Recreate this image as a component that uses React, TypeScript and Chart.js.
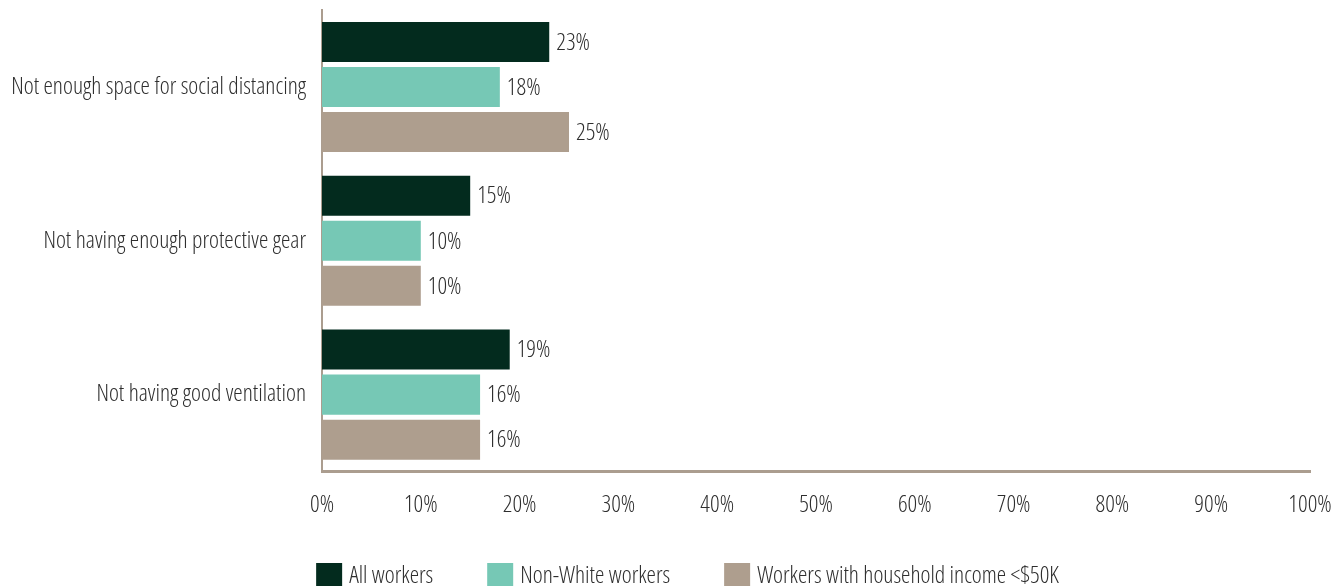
import React, { useEffect, useRef } from "react";
import { Chart, registerables } from "chart.js";

Chart.register(...registerables);

const categories = [
  "Not enough space for social distancing",
  "Not having enough protective gear",
  "Not having good ventilation",
];
const allWorkers = [23, 15, 19];
const nonWhiteWorkers = [18, 10, 16];
const lowIncomeWorkers = [25, 10, 16];
const seriesNames = ["All workers", "Non-White workers", "Workers with household income <$50K"];
const seriesColors = ["#032b1e", "#76c8b5", "#ae9e8e"];
const xTicks = [0, 10, 20, 30, 40, 50, 60, 70, 80, 90, 100];

const FAMILY = "'Open Sans', sans-serif";
const WEIGHT = "300 condensed";
const SIZE = 23.7;
const FONTSTR = `${WEIGHT} ${SIZE}px ${FAMILY}`;
const TEXT = "#2e2e2e";
const AXIS = "#ab9d8f";

const valueLabels = {
  id: "valueLabels",
  afterDatasetsDraw(chart: any) {
    const ctx = chart.ctx;
    ctx.save();
    ctx.font = FONTSTR;
    ctx.fillStyle = TEXT;
    ctx.textAlign = "left";
    ctx.textBaseline = "middle";
    chart.data.datasets.forEach((ds: any, i: number) => {
      const meta = chart.getDatasetMeta(i);
      meta.data.forEach((el: any, j: number) => {
        ctx.fillText(`${ds.data[j]}%`, el.x + 7, el.y + 1);
      });
    });
    ctx.restore();
  },
};

const customLegend = {
  id: "customLegend",
  afterDraw(chart: any) {
    const ctx = chart.ctx;
    ctx.save();
    ctx.font = FONTSTR;
    const box = 26;
    const gap = 7;
    const spacing = 54;
    const widths = seriesNames.map((n) => box + gap + ctx.measureText(n).width);
    const total = widths.reduce((a, b) => a + b, 0) + spacing * (widths.length - 1);
    let x = chart.width / 2 + 17 - total / 2;
    const top = 563;
    ctx.textAlign = "left";
    ctx.textBaseline = "middle";
    seriesNames.forEach((n, i) => {
      ctx.fillStyle = seriesColors[i];
      ctx.fillRect(x, top, box, box);
      ctx.fillStyle = TEXT;
      ctx.fillText(n, x + box + gap, top + 13);
      x += widths[i] + spacing;
    });
    ctx.restore();
  },
};

export default function App() {
  const ref = useRef<HTMLCanvasElement>(null);
  useEffect(() => {
    const chart = new Chart(ref.current as HTMLCanvasElement, {
      type: "bar",
      data: {
        labels: categories,
        datasets: seriesNames.map((n, i) => ({
          label: n,
          data: [allWorkers, nonWhiteWorkers, lowIncomeWorkers][i],
          backgroundColor: seriesColors[i],
        })),
      },
      options: {
        indexAxis: "y",
        responsive: false,
        animation: false,
        categoryPercentage: 0.878,
        barPercentage: 0.889,
        layout: { padding: { left: 0, right: 31, top: 10, bottom: 48 } },
        scales: {
          x: {
            min: 0,
            max: 100,
            afterBuildTicks(scale: any) {
              scale.ticks = xTicks.map((v) => ({ value: v }));
            },
            afterFit(scale: any) {
              scale.paddingLeft = 0;
              scale.paddingRight = 0;
            },
            grid: { display: false, drawTicks: false },
            border: { display: true, color: AXIS, width: 3 },
            ticks: {
              color: TEXT,
              font: { family: FAMILY, size: SIZE, weight: WEIGHT },
              padding: 19,
              maxRotation: 0,
              autoSkip: false,
              callback: (v: any) => `${v}%`,
            },
          },
          y: {
            afterFit(scale: any) {
              scale.width = 322;
              scale.paddingTop = 0;
              scale.paddingBottom = 0;
            },
            grid: { display: false, drawTicks: false },
            border: { display: true, color: AXIS, width: 2 },
            ticks: {
              color: TEXT,
              font: { family: FAMILY, size: SIZE, weight: WEIGHT },
              padding: 16,
            },
          },
        },
        plugins: {
          tooltip: { enabled: false },
          legend: { display: false },
        },
      },
      plugins: [valueLabels, customLegend],
    });
    return () => chart.destroy();
  }, []);
  return (
    <div style={{ position: "fixed", left: 0, top: 0, width: 1341, height: 586, overflow: "hidden", background: "#fff" }}>
      <canvas ref={ref} width={1341} height={586} />
    </div>
  );
}
